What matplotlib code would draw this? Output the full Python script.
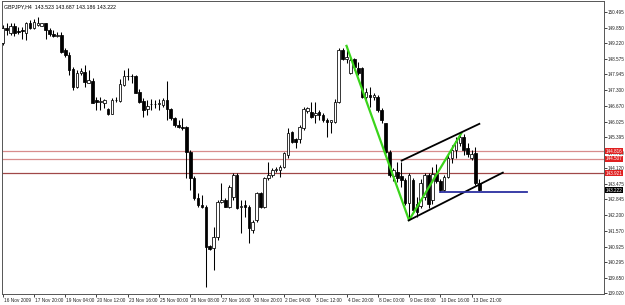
import numpy as np
import matplotlib
matplotlib.use("Agg")
import matplotlib.pyplot as plt
import matplotlib.transforms as mtransforms

plt.rcParams['font.family'] = ['Liberation Sans', 'DejaVu Sans']

# GBPJPY H4 candles (bar 0 = 16 Nov 2009)
opens = [149.23, 149.84, 149.64, 149.92, 149.72, 149.76, 149.64, 150.05, 149.84, 149.97,
         149.92, 150.03, 149.76, 149.60, 149.52, 149.56, 148.95, 148.74, 148.16, 147.45,
         147.99, 148.06, 147.61, 147.69, 146.91, 146.82, 146.77, 146.53, 146.33, 146.91,
         146.88, 147.52, 147.88, 147.88, 147.88, 147.24, 146.88, 146.54, 146.74, 146.73,
         146.74, 146.70, 146.91, 146.53, 146.16, 145.89, 145.82, 145.80, 144.80, 143.71,
         142.89, 142.62, 142.55, 140.95, 140.85, 141.33, 142.76, 142.83, 142.55, 142.96,
         143.85, 142.53, 142.62, 142.55, 141.60, 142.01, 143.10, 142.55, 143.71, 143.85,
         144.05, 144.05, 144.18, 144.66, 145.61, 145.30, 145.30, 145.75, 146.47, 146.43,
         146.29, 146.43, 146.29, 146.09, 146.02, 146.02, 146.84, 148.95, 148.58, 147.99,
         148.57, 148.20, 148.20, 147.04, 147.11, 147.04, 147.04, 146.50, 145.95, 144.80,
         143.80, 143.98, 143.80, 143.64, 142.70, 143.64, 142.66, 142.58, 142.95, 143.85,
         142.83, 143.89, 143.60, 143.23, 143.76, 144.54, 144.87, 145.15, 145.40, 144.95,
         144.54, 144.74, 143.523]
highs = [149.97, 150.05, 150.05, 150.05, 149.88, 149.88, 150.10, 150.17, 150.21, 150.30,
         150.06, 150.06, 149.83, 149.76, 149.69, 149.69, 149.01, 148.84, 148.26, 148.13,
         148.20, 148.33, 148.13, 147.79, 147.02, 147.02, 146.93, 146.57, 146.97, 147.02,
         147.75, 148.13, 148.20, 147.97, 147.93, 147.34, 146.97, 146.91, 146.93, 146.91,
         146.93, 146.97, 147.69, 146.57, 146.20, 146.09, 146.16, 145.84, 144.87, 143.80,
         143.10, 143.03, 142.62, 140.99, 141.74, 142.83, 143.51, 142.89, 143.44, 143.91,
         143.91, 142.83, 142.83, 142.62, 142.01, 143.16, 143.16, 143.78, 144.39, 144.12,
         144.16, 144.25, 144.80, 145.75, 145.65, 145.34, 145.89, 146.63, 146.63, 146.84,
         146.84, 146.50, 146.36, 146.16, 146.09, 146.93, 149.01, 149.01, 149.11, 148.61,
         148.61, 148.47, 148.26, 147.38, 147.45, 147.18, 147.11, 146.57, 145.95, 144.87,
         144.13, 144.39, 144.38, 143.71, 143.93, 143.71, 142.95, 143.68, 143.93, 143.93,
         144.17, 144.29, 143.68, 143.85, 144.66, 145.07, 145.40, 145.56, 145.52, 145.15,
         144.87, 144.99, 143.687]
lows = [149.15, 149.56, 149.56, 149.52, 149.60, 149.39, 149.35, 149.80, 149.80, 149.90,
        149.90, 149.39, 149.52, 149.49, 149.49, 148.81, 148.67, 147.93, 147.31, 147.38,
        147.93, 147.45, 147.59, 146.77, 146.50, 146.50, 146.57, 146.29, 146.32, 146.84,
        146.84, 147.48, 147.72, 147.59, 147.18, 146.77, 146.22, 146.29, 146.50, 146.57,
        146.50, 146.63, 146.09, 146.09, 145.82, 145.75, 145.68, 143.72, 143.23, 142.83,
        142.55, 142.49, 139.29, 140.79, 139.97, 141.19, 142.69, 142.55, 142.49, 142.83,
        142.47, 141.47, 142.14, 141.06, 141.47, 141.94, 142.49, 142.49, 143.64, 143.78,
        143.98, 143.78, 144.12, 144.53, 145.16, 144.93, 145.14, 145.68, 146.36, 146.16,
        145.95, 146.09, 146.02, 145.41, 145.55, 145.98, 146.78, 148.54, 148.41, 147.97,
        148.13, 147.93, 146.97, 146.91, 146.63, 146.91, 146.43, 145.95, 144.73, 143.78,
        143.60, 143.57, 143.36, 142.62, 142.00, 142.35, 142.13, 142.50, 142.83, 142.50,
        142.66, 143.52, 143.165, 143.19, 143.72, 144.33, 144.54, 145.03, 144.66, 144.58,
        144.46, 143.44, 143.186]
closes = [149.84, 149.76, 149.92, 149.64, 149.68, 149.72, 150.06, 149.84, 150.10, 150.06,
          150.03, 149.76, 149.60, 149.52, 149.55, 148.88, 148.74, 148.13, 147.45, 147.99,
          148.10, 147.65, 147.72, 146.79, 146.84, 146.88, 146.91, 146.33, 146.91, 146.89,
          147.56, 147.88, 147.90, 147.87, 147.20, 146.84, 146.50, 146.66, 146.73, 146.74,
          146.76, 146.91, 146.53, 146.16, 145.89, 145.82, 145.75, 144.80, 143.71, 142.89,
          142.62, 142.55, 140.92, 140.81, 141.33, 142.76, 142.83, 142.55, 143.37, 143.85,
          142.49, 142.58, 142.55, 141.67, 141.94, 143.10, 142.55, 143.71, 143.85, 144.05,
          144.08, 144.18, 144.73, 145.55, 145.20, 145.20, 145.82, 146.53, 146.57, 146.20,
          146.36, 146.29, 146.09, 146.02, 146.09, 146.84, 148.95, 148.57, 148.66, 148.54,
          148.24, 147.99, 147.04, 147.24, 147.04, 147.11, 146.50, 146.10, 144.80, 143.85,
          144.05, 143.71, 143.64, 142.69, 143.85, 142.42, 142.33, 143.52, 143.85, 142.66,
          143.89, 143.60, 143.23, 143.76, 144.54, 144.87, 145.23, 145.40, 144.87, 144.70,
          144.72, 143.52, 143.222]

time_labels = ["16 Nov 2009", "17 Nov 20:00", "19 Nov 04:00", "20 Nov 12:00", "23 Nov 16:00",
               "25 Nov 00:00", "26 Nov 08:00", "27 Nov 16:00", "30 Nov 20:00", "2 Dec 04:00",
               "3 Dec 12:00", "4 Dec 20:00", "8 Dec 00:00", "9 Dec 08:00", "10 Dec 16:00",
               "13 Dec 21:00"]
price_ticks = [150.495, 149.850, 149.220, 148.575, 147.945, 147.300, 146.670, 146.025,
               145.395, 144.750, 144.120, 143.475, 142.845, 142.200, 141.570, 140.925,
               140.295, 139.650, 139.020]

red_levels = [144.816, 144.507, 143.921]
red_colors = ["#d88c8c", "#d88c8c", "#a04848"]

# drawn objects: (bar, price) pairs
zigzag_bars = [88, 104, 117.4]
zigzag_prices = [149.11, 142.00, 145.55]
channel_top_bars = [102.1, 122.0]
channel_top_prices = [144.43, 145.93]
channel_bot_bars = [103.9, 128.0]
channel_bot_prices = [141.99, 143.94]
support_bars = [112, 134.2]
support_price = 143.165

header = "GBPJPY,H4  143.523 143.687 143.186 143.222"

fig = plt.figure(figsize=(6.25, 3.05), dpi=100)
ax = fig.add_axes([2 / 625, 11 / 305, 602 / 625, 293 / 305])

n = len(opens)
idx = np.arange(n)
o = np.array(opens)
h = np.array(highs)
l = np.array(lows)
c = np.array(closes)

for lvl, col in zip(red_levels, red_colors):
    ax.axhline(lvl, color=col, lw=0.9, zorder=1)

ax.vlines(idx, l, h, color="black", lw=0.75, zorder=2)
bull = c >= o
bottom = np.minimum(o, c)
height = np.maximum(np.abs(c - o), 0.012)
ax.bar(idx[bull], height[bull], bottom=bottom[bull], width=0.66, color="white",
       edgecolor="black", linewidth=0.55, zorder=3)
ax.bar(idx[~bull], height[~bull], bottom=bottom[~bull], width=0.66, color="black",
       edgecolor="black", linewidth=0.55, zorder=3)

ax.plot(zigzag_bars, zigzag_prices, color="#3ad41a", lw=1.6, zorder=4)
ax.plot(channel_top_bars, channel_top_prices, color="black", lw=1.3, zorder=4)
ax.plot(channel_bot_bars, channel_bot_prices, color="black", lw=1.3, zorder=4)
ax.plot(support_bars, [support_price, support_price], color="#2b2fa0", lw=1.3, zorder=4)

ax.set_xlim(-0.18, 153.9)
ax.set_ylim(138.99, 150.94)

ysize = 3.3
xsize = 3.4
ax.yaxis.tick_right()
ax.set_yticks(price_ticks)
ax.set_yticklabels([f"{v:.3f}" for v in price_ticks])
ax.tick_params(axis="y", length=2, width=0.6, pad=0.5, labelsize=ysize, colors="#222222")
ax.set_xticks(np.arange(0, 8 * len(time_labels), 8))
ax.set_xticklabels(time_labels, ha="left")
ax.tick_params(axis="x", length=2, width=0.6, pad=0.8, labelsize=xsize, colors="#222222")
offset = mtransforms.ScaledTranslation(1 / 100, 0, fig.dpi_scale_trans)
for lab in ax.get_xticklabels():
    lab.set_transform(lab.get_transform() + offset)

for sp in ax.spines.values():
    sp.set_color("#555555")
    sp.set_linewidth(0.7)

trans = mtransforms.blended_transform_factory(ax.transAxes, ax.transData)
for lvl in red_levels:
    ax.text(1.0025, lvl, f"{lvl:.3f}", transform=trans, fontsize=ysize, color="white",
            va="center", ha="left", clip_on=False, zorder=6,
            bbox=dict(boxstyle="square,pad=0.08", fc="#e02020", ec="none"))
ax.text(1.0025, closes[-1], f"{closes[-1]:.3f}", transform=trans, fontsize=ysize,
        color="white", va="center", ha="left", clip_on=False, zorder=6,
        bbox=dict(boxstyle="square,pad=0.08", fc="black", ec="none"))

ax.text(0.004, 0.99, header, transform=ax.transAxes, fontsize=3.8, va="top", ha="left",
        color="black")

fig.savefig("out.png", dpi=100)
